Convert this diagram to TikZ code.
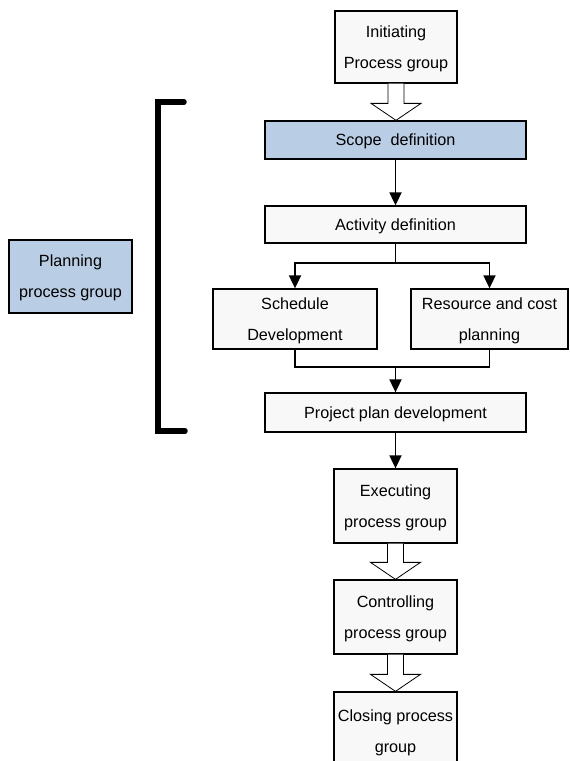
\documentclass[tikz,border=0pt]{standalone}
\usepackage{fontspec}
\setmainfont{Liberation Sans}
\usetikzlibrary{calc,arrows.meta}

\definecolor{groupblue}{HTML}{B9CDE5}
\definecolor{boxgray}{HTML}{F8F8F8}

\tikzset{
  box/.style={draw=black, line width=1.3pt, fill=boxgray, inner sep=0pt,
    align=center, text depth=0pt, font=\fontsize{16.2}{31}\selectfont},
  bluebox/.style={box, fill=groupblue},
  arr/.style={line width=1.8pt, -{Triangle[length=13pt,width=12pt]}},
  link/.style={line width=1.8pt},
  hollow/.style={draw=black, line width=0.8pt, fill=white, line join=miter},
  bracket/.style={line width=5.5pt, line cap=round, line join=miter}
}

% hollow block arrow between the bottom of #1 and the top of #2
\newcommand{\blockarrow}[2]{%
  \path let \p1=(#1.south), \p2=(#2.north) in
    [hollow] (\x1-8pt,\y1) -- (\x1-8pt,\y2+17pt) -- (\x1-25pt,\y2+17pt)
      -- (\x1,\y2) -- (\x1+25pt,\y2+17pt) -- (\x1+8pt,\y2+17pt)
      -- (\x1+8pt,\y1);%
}

\begin{document}
\begin{tikzpicture}[x=1pt,y=-1pt]
  \useasboundingbox (0,0) rectangle (570,761);
  \clip (0,0) rectangle (570,761);
  \fill[white] (0,0) rectangle (570,761);

  % main process chain
  \node[box, minimum width=122pt, minimum height=72pt] (init) at (396,47)
    {Initiating\\Process group};
  \node[bluebox, minimum width=261pt, minimum height=38pt] (scope) at (395.5,140)
    {Scope\ \ definition};
  \node[box, minimum width=261pt, minimum height=37pt] (act) at (395.5,224.5)
    {Activity definition};
  \node[box, minimum width=164pt, minimum height=60pt] (sched) at (295,319)
    {Schedule\\Development};
  \node[box, minimum width=157pt, minimum height=60pt] (res) at (489.5,319)
    {Resource and cost\\planning};
  \node[box, minimum width=261pt, minimum height=39pt] (plan) at (395.5,412.5)
    {Project plan development};
  \node[box, minimum width=123pt, minimum height=74pt] (exec) at (395.5,506)
    {Executing\\process group};
  \node[box, minimum width=123pt, minimum height=74pt] (ctrl) at (395.5,617)
    {Controlling\\process group};
  \node[box, minimum width=123pt, minimum height=78pt] (close) at (395.5,731)
    {Closing process\\group};

  % planning group label and its bracket
  \node[bluebox, minimum width=123pt, minimum height=73pt] (pgroup) at (70.5,276.5)
    {Planning\\process group};
  \coordinate (btop) at (184,102);
  \coordinate (bbot) at (185,431);
  \draw[bracket] (btop) -- (158,102) -- (158,431) -- (bbot);

  % block arrows between process groups
  \blockarrow{init}{scope}
  \blockarrow{exec}{ctrl}
  \blockarrow{ctrl}{close}

  % planning flow
  \draw[arr] (scope.south) -- (act.north);
  \coordinate (split) at ($(act.south)+(0,19)$);
  \draw[link] (act.south) -- (split);
  \draw[arr] (split) -| (sched.north);
  \draw[arr] (split) -| (res.north);
  \coordinate (merge) at ($(plan.north)+(0,-25)$);
  \draw[link] (sched.south) |- (merge) -| (res.south);
  \draw[arr] (merge) -- (plan.north);
  \draw[arr] (plan.south) -- (exec.north);
\end{tikzpicture}
\end{document}
